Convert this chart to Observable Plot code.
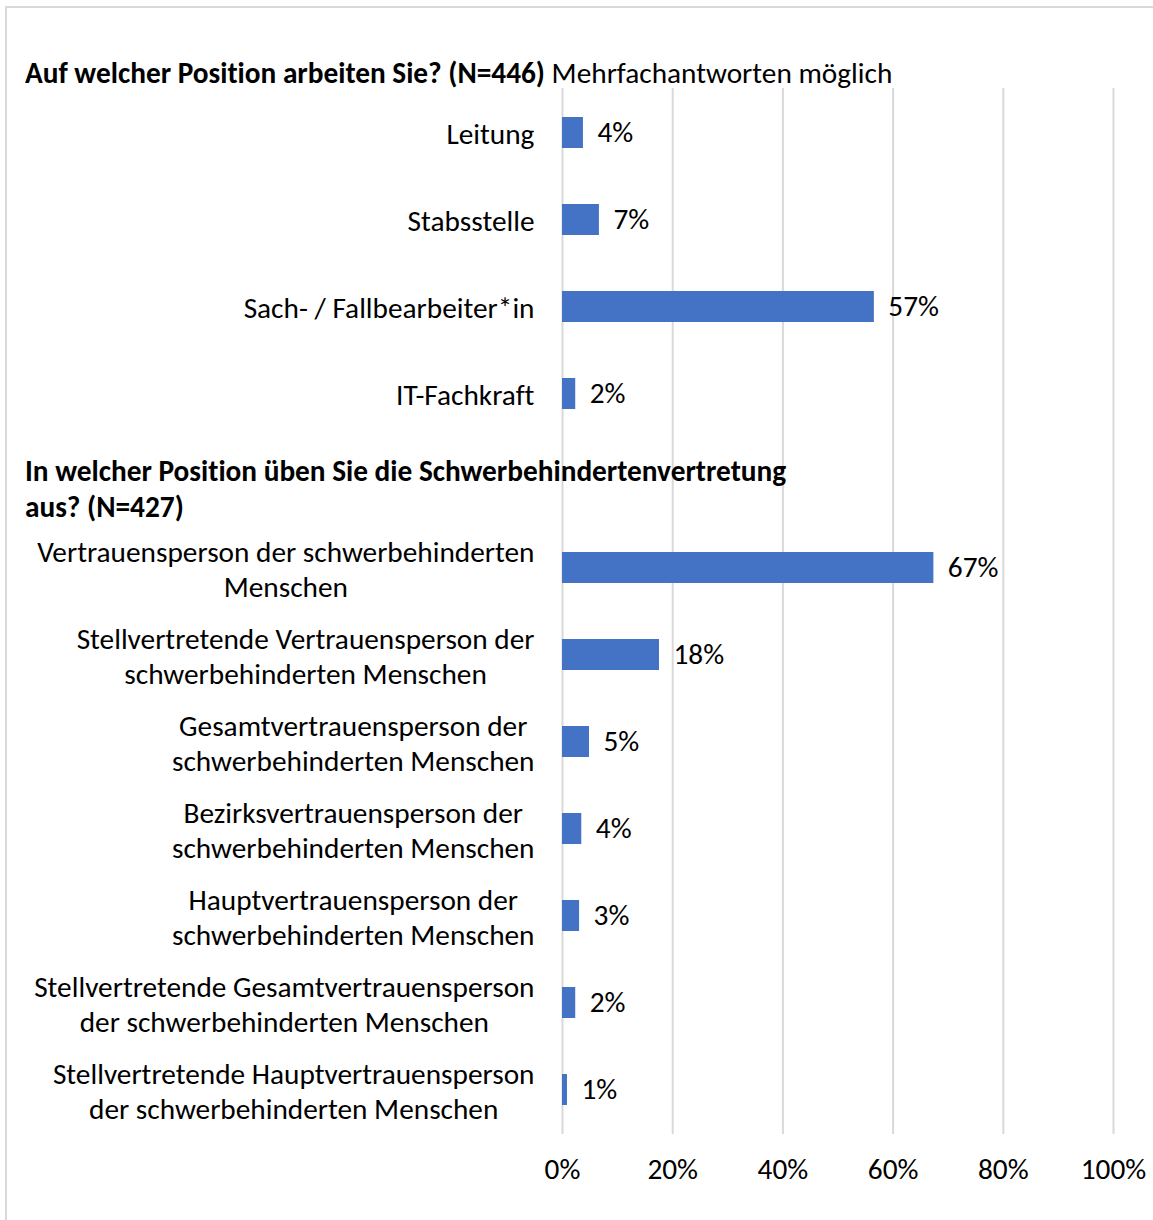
<!DOCTYPE html>
<html><head><meta charset="utf-8">
<script src="https://cdn.jsdelivr.net/npm/d3@7"></script>
<script src="https://cdn.jsdelivr.net/npm/@observablehq/plot@0.6"></script>
<style>
body{margin:0;background:#fff;}
#wrap{position:relative;width:1153px;height:1220px;overflow:hidden;font-family:Carlito,Calibri,'Open Sans',sans-serif;color:#000;font-variant-ligatures:none;}
#wrap svg text{font-variant-ligatures:none;}
#frame{position:absolute;left:5px;top:6px;width:1170px;height:1240px;border:2px solid #d9d9d9;}
#title{position:absolute;left:25px;top:55px;font-size:29.3px;line-height:36px;white-space:nowrap;}
#title2{position:absolute;left:25px;top:454px;font-size:29.3px;font-weight:bold;line-height:35.5px;white-space:nowrap;}
#chart{position:absolute;left:0;top:0;}
</style></head>
<body>
<div id="wrap"><div id="frame"></div><div id="chart"></div>
<div id="title"><b>Auf welcher Position arbeiten Sie? (N=446)</b> Mehrfachantworten möglich</div>
<div id="title2">In welcher Position üben Sie die Schwerbehindertenvertretung<br>aus? (N=427)</div>
</div>
<script>
const categories = [
  "Leitung",
  "Stabsstelle",
  "Sach- / Fallbearbeiter*in",
  "IT-Fachkraft",
  "",
  "Vertrauensperson der schwerbehinderten\nMenschen",
  "Stellvertretende Vertrauensperson der\nschwerbehinderten Menschen",
  "Gesamtvertrauensperson der\nschwerbehinderten Menschen",
  "Bezirksvertrauensperson der\nschwerbehinderten Menschen",
  "Hauptvertrauensperson der\nschwerbehinderten Menschen",
  "Stellvertretende Gesamtvertrauensperson\nder schwerbehinderten Menschen",
  "Stellvertretende Hauptvertrauensperson\nder schwerbehinderten Menschen"
];
const values = [3.8, 6.7, 56.6, 2.4, null, 67.4, 17.6, 4.9, 3.5, 3.1, 2.4, 0.9];
const valueLabels = ["4%", "7%", "57%", "2%", "", "67%", "18%", "5%", "4%", "3%", "2%", "1%"];
const xTicks = [0, 20, 40, 60, 80, 100];

const rows = categories.map((c, i) => ({cat: c, value: values[i], label: valueLabels[i]}))
  .filter(d => d.value != null);

const font = "Carlito, Calibri, 'Open Sans', sans-serif";
const fs = 29.3;
const chart = Plot.plot({
  width: 1153, height: 1220,
  marginTop: 88, marginBottom: 86, marginLeft: 562, marginRight: 40,
  style: {fontFamily: font, fontSize: fs + "px", color: "#000", background: "transparent"},
  x: {domain: [0, 100]},
  y: {domain: categories, paddingInner: 0.645, paddingOuter: 0.3225},
  marks: [
    Plot.gridX(xTicks, {stroke: "#d9d9d9", strokeOpacity: 1, strokeWidth: 2}),
    Plot.axisX(xTicks, {tickSize: 0, tickPadding: 24, tickFormat: d => d + "%", fontSize: fs, label: null}),
    Plot.axisY({tickSize: 0, tickPadding: 28, lineHeight: 1.215, fontSize: fs, label: null, tickFormat: d => d}),
    Plot.barX(rows, {x: "value", y: "cat", fill: "#4472C4"}),
    Plot.text(rows, {x: "value", y: "cat", text: "label", textAnchor: "start", dx: 14, fontSize: fs, fill: "#000"})
  ]
});
document.getElementById("chart").appendChild(chart);
// center the lines of each multi-line category label within its right-aligned block
chart.querySelectorAll('g[aria-label="y-axis tick label"] text').forEach(t => {
  const w = t.getBBox().width;
  t.setAttribute("text-anchor", "middle");
  t.setAttribute("transform", (t.getAttribute("transform") || "") + ` translate(${-w / 2},0)`);
});
</script>
</body></html>
